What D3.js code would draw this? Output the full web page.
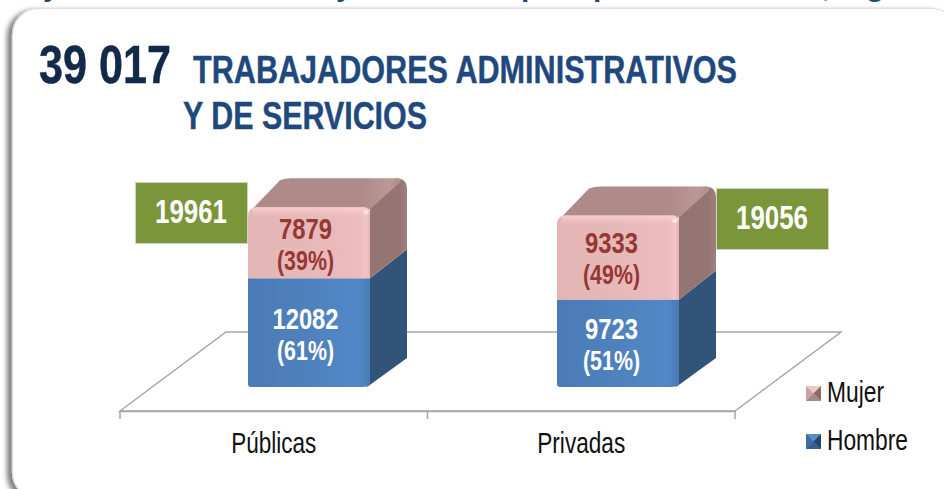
<!DOCTYPE html>
<html><head><meta charset="utf-8">
<script src="https://cdn.jsdelivr.net/npm/d3@7/dist/d3.min.js"></script>
<style>html,body{margin:0;padding:0;background:#fff;overflow:hidden}svg{display:block}text{font-family:"Liberation Sans",Arial,sans-serif}</style>
</head><body><svg id="c" width="944" height="489"></svg>
<script>
const categories = ["Públicas", "Privadas"];
const seriesNames = ["Hombre", "Mujer"];
const hombre = [12082, 9723];
const mujer = [7879, 9333];
const hombrePct = ["(61%)", "(51%)"];
const mujerPct = ["(39%)", "(49%)"];
const totals = [19961, 19056];
const grandTotal = "39 017";
const titleLines = ["TRABAJADORES ADMINISTRATIVOS", "Y DE SERVICIOS"];

const svg = d3.select("#c");
const defs = svg.append("defs");

const f = defs.append("filter").attr("id","panelShadow").attr("x","-5%").attr("y","-5%").attr("width","110%").attr("height","110%");
f.append("feDropShadow").attr("dx",-5).attr("dy",2).attr("stdDeviation",2.6).attr("flood-color","#000").attr("flood-opacity",0.5);

function hGrad(id, stops){
  const g = defs.append("linearGradient").attr("id",id);
  stops.forEach(s=>g.append("stop").attr("offset",s[0]).attr("stop-color",s[1]));
}
hGrad("pinkFront",[[0,"#e3b5b4"],[0.5,"#e6b8b7"],[0.9,"#ecbcbc"],[0.97,"#f2c4c4"],[1,"#e2b4b3"]]);
hGrad("blueFront",[[0,"#4a7bb6"],[0.5,"#4f81bd"],[0.9,"#5288c8"],[1,"#4a7ab5"]]);
hGrad("pinkSide",[[0,"#957574"],[0.8,"#957574"],[1,"#a08180"]]);
hGrad("pinkTop",[[0,"#ae8b89"],[0.72,"#ae8b89"],[0.92,"#bb9795"],[1,"#b08e8c"]]);
const gv = defs.append("linearGradient").attr("id","pinkBevel").attr("x1",0).attr("x2",0).attr("y1",0).attr("y2",1);
gv.append("stop").attr("offset",0).attr("stop-color","#f9cccb");
gv.append("stop").attr("offset",1).attr("stop-color","#f9cccb").attr("stop-opacity",0);

// page fragment and panel
const frag = svg.append("g").attr("fill","#1f497d").attr("font-weight","bold").attr("font-size",30);
[["y",43],["y",336],["p",521],["p",593],[",",822],["g",866]].forEach(d=>frag.append("text").attr("x",d[1]).attr("y",-4).text(d[0]));

svg.append("rect").attr("x",12.5).attr("y",8.5).attr("width",945).attr("height",490).attr("rx",26).attr("ry",26)
  .attr("fill","#fff").attr("stroke","#dcdcdc").attr("stroke-width",1.2).attr("filter","url(#panelShadow)");

function txt(parent,x,y,s,size,len,fill,weight,anchor){
  return parent.append("text").attr("x",x).attr("y",y).attr("font-size",size)
    .attr("fill",fill).attr("font-weight",weight||"normal").attr("text-anchor",anchor||"start")
    .attr("textLength",len).attr("lengthAdjust","spacingAndGlyphs").text(s);
}

// title
txt(svg,39,83,grandTotal,54,132,"#12294a","bold").attr("stroke","#12294a").attr("stroke-width",0.5);
txt(svg,193,83,titleLines[0],38,544,"#1f497d","bold").attr("stroke","#1f497d").attr("stroke-width",0.4);
txt(svg,183,129,titleLines[1],38,244,"#1f497d","bold").attr("stroke","#1f497d").attr("stroke-width",0.4);

// scales
const floorX = d3.scaleBand().domain(categories).range([120,735]);
const barX = d3.scalePoint().domain(categories).range([248,557]);
const labelX = d3.scalePoint().domain(categories).range([305.5,611.5]);
const y = d3.scaleLinear().domain([0,20000]).range([387,207]);
const barW = 122, depthX = 37, depthY = 29;
const floorDx = 106, floorDy = 79, floorY = 411;
const [fx0,fx1] = floorX.range();

// floor
svg.append("path").attr("fill","none").attr("stroke","#a6a6a6").attr("stroke-width",1.5)
  .attr("d",`M${fx0},${floorY}L${fx0+floorDx},${floorY-floorDy}L${fx1+floorDx},${floorY-floorDy}L${fx1},${floorY}Z`);
const axis = svg.append("g").attr("transform",`translate(0,${floorY})`)
  .call(d3.axisBottom(floorX).tickSize(0).tickPadding(0));
axis.select(".domain").attr("stroke","#a6a6a6").attr("stroke-width",1.5);
axis.selectAll("text").attr("y",42).attr("dy",0).attr("font-size",29).attr("fill","#111")
  .attr("font-family",'"Liberation Sans"')
  .attr("textLength",(d,i)=>[85,88][i]).attr("lengthAdjust","spacingAndGlyphs");
[fx0, fx0+floorX.step(), fx0+2*floorX.step()].forEach(t=>
  axis.append("line").attr("x1",t).attr("x2",t).attr("y1",0).attr("y2",8).attr("stroke","#a6a6a6").attr("stroke-width",1.5));

// bars
categories.forEach((c,i)=>{
  const x0 = barX(c), x1 = x0+barW;
  const y0 = y(0), yb = y(hombre[i]), yt = y(hombre[i]+mujer[i]);
  const g = svg.append("g");
  // blue side
  g.append("path").attr("fill","#335479").attr("d",`M${x1-3},${y0}L${x1+depthX},${y0-depthY}L${x1+depthX},${yb-depthY}L${x1},${yb}Z`);
  // pink side
  g.append("path").attr("fill","url(#pinkSide)").attr("d",`M${x1},${yb}L${x1+depthX},${yb-depthY}L${x1+depthX},${yt-depthY+11}Q${x1+depthX},${yt-depthY} ${x1+depthX-11},${yt-depthY}L${x1},${yt}Z`);
  // top
  g.append("path").attr("fill","url(#pinkTop)")
    .attr("d",`M${x0+6},${yt}L${x0+depthX-5},${yt-depthY+2}Q${x0+depthX},${yt-depthY} ${x0+depthX+6},${yt-depthY}L${x1+depthX-11},${yt-depthY}Q${x1+depthX-4},${yt-depthY} ${x1+depthX-7},${yt-depthY+4}L${x1},${yt+2}L${x0+6},${yt+2}Z`);
  // blue front
  g.append("path").attr("fill","url(#blueFront)")
    .attr("d",`M${x0},${yb}L${x1},${yb}L${x1},${y0-2}Q${x1-3},${y0} ${x1-8},${y0}L${x0+3},${y0}Q${x0},${y0} ${x0},${y0-3}Z`);
  // pink front
  g.append("path").attr("fill","url(#pinkFront)")
    .attr("d",`M${x0},${yb}L${x0},${yt+9}Q${x0},${yt} ${x0+9},${yt}L${x1-6},${yt}Q${x1},${yt} ${x1},${yt+6}L${x1},${yb}Z`);
  // top bevel
  g.append("rect").attr("x",x0+4).attr("y",yt).attr("width",barW-6).attr("height",9).attr("rx",4).attr("fill","url(#pinkBevel)");
  g.append("circle").attr("cx",x1-4).attr("cy",yt+5).attr("r",2.5).attr("fill","#fde0df");

  // value labels
  const lx = labelX(c);
  const ym = (yb+yt)/2, ymb = (y0+yb)/2;
  txt(g,lx,ym-4,mujer[i],30,53,"#953735","bold","middle");
  txt(g,lx,ym+27,mujerPct[i],27,57,"#953735","bold","middle");
  txt(g,lx,ymb-4,hombre[i],30,hombre[i]>=10000?66:53,"#fff","bold","middle");
  txt(g,lx,ymb+27,hombrePct[i],27,57,"#fff","bold","middle");
});

// total boxes
const boxX = d3.scalePoint().domain(categories).range([135,716]);
const boxY = d3.scalePoint().domain(categories).range([182,188]);
categories.forEach((c,i)=>{
  const bx = boxX(c), by = boxY(c);
  svg.append("rect").attr("x",bx+.5).attr("y",by+.5).attr("width",112).attr("height",61)
    .attr("fill","#7a953a").attr("stroke","#cfd5c4").attr("stroke-width",1);
  txt(svg,bx+56,by+40.5,totals[i],33,72,"#fff","bold","middle");
});

// legend
const legendY = d3.scalePoint().domain(["Mujer","Hombre"]).range([386,434]);
const legendCols = {Mujer:["#f0c8c7","#c9a3a2","#8a6b6a","#a98a89","#d8aeac"],Hombre:["#5a8ccb","#3d6ca6","#264668","#35608f","#4a7db9"]};
["Mujer","Hombre"].forEach(n=>{
  const sy = legendY(n), sx = 806, s = 15, cols = legendCols[n];
  const m = svg.append("g");
  const cx = sx+s/2, cy = sy+s/2;
  m.append("rect").attr("x",sx).attr("y",sy).attr("width",s).attr("height",s).attr("fill",cols[4]);
  m.append("path").attr("fill",cols[0]).attr("d",`M${sx},${sy}L${sx+s},${sy}L${cx},${cy}Z`);
  m.append("path").attr("fill",cols[1]).attr("d",`M${sx},${sy}L${sx},${sy+s}L${cx},${cy}Z`);
  m.append("path").attr("fill",cols[2]).attr("d",`M${sx+s},${sy}L${sx+s},${sy+s}L${cx},${cy}Z`);
  m.append("path").attr("fill",cols[3]).attr("d",`M${sx},${sy+s}L${sx+s},${sy+s}L${cx},${cy}Z`);
  txt(m,827,sy+16,n,29,n==="Mujer"?57:81,"#111");
});
</script></body></html>
